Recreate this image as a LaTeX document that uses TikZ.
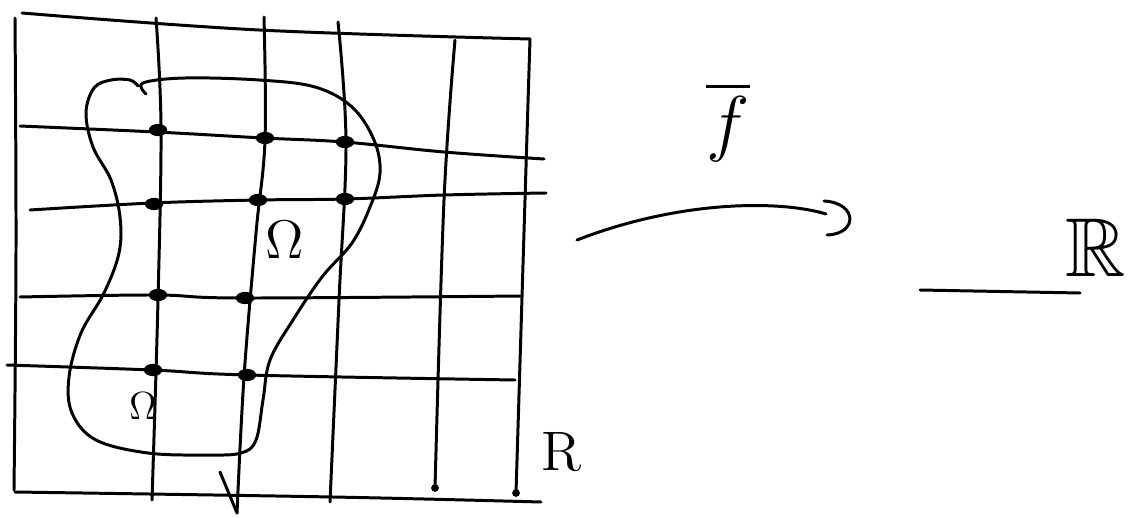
\documentclass[tikz,border=0pt]{standalone}
\usepackage{amssymb}
\usetikzlibrary{arrows.meta}
\tikzset{
  pen/.style     = {line width=1.7pt, line cap=round, line join=round},
  gridline/.style= {pen, smooth, tension=0.6},
  gridpt/.style  = {fill=black},
  bigtxt/.style  = {font=\Large, inner sep=0pt},
}

\begin{document}
\begin{tikzpicture}[x=0.02cm, y=-0.02cm]
  \useasboundingbox (0,0) rectangle (1131,517);
  % rectangle R with its grid
  \draw[gridline] plot coordinates {(15,18) (16,250) (14,490)};
  \draw[gridline] plot coordinates {(22,13) (259,30) (530,39)};
  \draw[gridline] plot coordinates {(530,39) (526,167) (516,493)};
  \draw[gridline] plot coordinates {(15,492) (333,497) (541,502)};
  \draw[gridline] plot coordinates {(156,18) (161,127) (158,300) (152,500)};
  \draw[gridline] plot coordinates {(264,17) (265,140) (256,233) (244,377) (237,513)};
  \draw[gridline] plot coordinates {(338,22) (346,143) (339,300) (330,502)};
  \draw[gridline] plot coordinates {(455,40) (444,200) (435,488)};
  \draw[gridline] plot coordinates {(20,126) (156,132) (263,138) (344,142) (444,152) (544,159)};
  \draw[gridline] plot coordinates {(30,210) (152,203) (259,200) (346,199) (444,195) (546,193)};
  \draw[gridline] plot coordinates {(20,297) (156,295) (241,298) (520,296)};
  \draw[gridline] plot coordinates {(7,365) (152,370) (248,375) (515,380)};
  \draw[pen] (220,472) -- (237,513);
  \fill (435,488) circle (2.2pt);
  \fill (516,493) circle (2.2pt);
  % the set Omega
  \draw[gridline] plot coordinates {(146,94) (143,83) (185,78) (259,80) (315,87)
    (352,107) (374,140) (380,173) (370,207) (352,243) (322,277) (293,320)
    (270,360) (263,400) (256,440) (241,453) (207,455) (148,453) (96,440)
    (72,413) (69,377) (81,333) (104,293) (119,253) (120,217) (111,180)
    (93,147) (86,113) (94,88) (111,80) (130,80) (138,86)};
  % grid points inside Omega
  \foreach \px/\py in {158/130, 265/138, 345/142, 154/204, 258/200,
                       345/199, 158/295, 245/298, 153/370, 247/375}
    \fill[gridpt] (\px,\py) ellipse [x radius=5.2pt, y radius=3.5pt];
  \node[bigtxt, scale=2.15] (om1) at (285,240) {$\Omega$};
  \node[bigtxt, scale=1.55] (om2) at (143,406) {$\Omega$};
  \node[bigtxt, scale=2.2] (rlab) at (562,452) {R};
  % the map f
  \node[bigtxt, scale=2.9] (flab) at (728,122) {$\overline{f}$};
  \coordinate (fa) at (577,240);
  \coordinate (fb) at (826,214);
  \draw[pen] (fa) .. controls (680,200) and (780,200) .. (fb);
  \draw[pen] (824,201) .. controls (858,203) and (858,234) .. (827,235);
  % the real line
  \coordinate (ra) at (920,290);
  \coordinate (rb) at (1080,293);
  \draw[pen] (ra) -- (rb);
  \node[bigtxt, scale=3.3] (reals) at (1096,248) {$\mathbb{R}$};
\end{tikzpicture}
\end{document}
